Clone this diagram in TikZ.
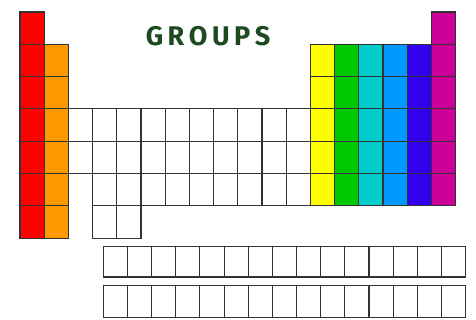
\documentclass[tikz,border=0pt]{standalone}
\usepackage{fontspec}
\setmainfont{Fira Sans}
\definecolor{grpred}{HTML}{FF0000}
\definecolor{grporange}{HTML}{FF9900}
\definecolor{grpyellow}{HTML}{FFFF00}
\definecolor{grpgreen}{HTML}{00C800}
\definecolor{grpcyan}{HTML}{00CCCC}
\definecolor{grpblue}{HTML}{0099FF}
\definecolor{grpindigo}{HTML}{3300EE}
\definecolor{grpmagenta}{HTML}{CC0099}
\definecolor{titlegreen}{HTML}{1E4A22}

\begin{document}
\begin{tikzpicture}[
    x=1pt, y=-1pt,
    cell/.style={draw=black!80, line width=1.1pt},
    title/.style={font=\fontsize{27}{27}\selectfont\bfseries, text=titlegreen},
  ]
  \useasboundingbox (0,0) rectangle (476,320);

  % coloured groups: column / first row / last row / colour
  \foreach \c/\ra/\rb/\col in {0/0/6/grpred, 1/1/6/grporange,
      12/1/5/grpyellow, 13/1/5/grpgreen, 14/1/5/grpcyan,
      15/1/5/grpblue, 16/1/5/grpindigo, 17/0/5/grpmagenta}
    \foreach \r in {\ra,...,\rb}
      \draw[cell, fill=\col] (20+24.2*\c,12+32.3*\r) rectangle ++(24.2,32.3);

  % transition block
  \foreach \c in {3,...,11}
    \foreach \r in {3,4,5}
      \draw[cell] (20+24.2*\c,12+32.3*\r) rectangle ++(24.2,32.3);
  \foreach \r in {3,4}
    \draw[cell] (20+24.2*2,12+32.3*\r) rectangle ++(24.2,32.3);
  \foreach \c in {3,4}
    \draw[cell] (20+24.2*\c,12+32.3*6) rectangle ++(24.2,32.3);

  % lower two rows
  \foreach \c in {0,...,14} {
    \draw[cell] (103.3+24.15*\c,246.5) rectangle ++(24.15,30.5);
    \draw[cell] (103.3+24.15*\c,285.5) rectangle ++(24.15,32);
  }

  % heading
  \node[title] (head) at (208,36) {G\,R\,O\,U\,P\,S};
\end{tikzpicture}
\end{document}
